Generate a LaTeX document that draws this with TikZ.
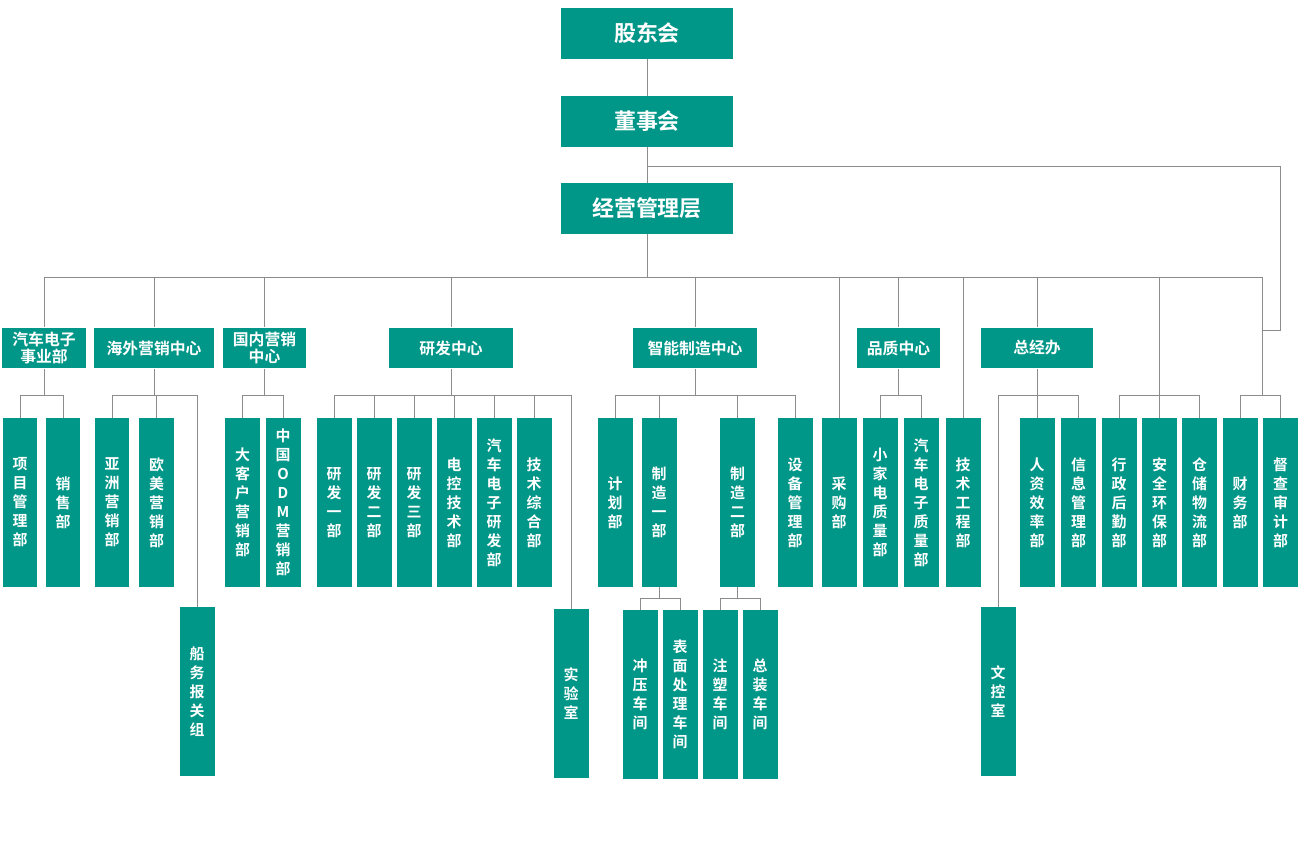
\documentclass[tikz,border=0pt]{standalone}
\usepackage{fontspec}
\setmainfont{Noto Sans CJK SC Bold}
\usetikzlibrary{calc, positioning}
\definecolor{teal1}{RGB}{0,150,136}
\definecolor{line1}{RGB}{140,140,140}
\tikzset{
  box/.style={fill=teal1, text=white, inner sep=0pt, align=center},
  top/.style={box, minimum width=3.46cm, minimum height=1.02cm, font=\fontsize{12.5}{14}\selectfont},
  mid/.style={box, minimum height=0.82cm, font=\fontsize{9}{9.5}\selectfont},
  col/.style={box, minimum width=0.7cm, minimum height=3.38cm, font=\fontsize{8.5}{10.8}\selectfont},
  link/.style={draw=line1, line width=0.5pt}
}
\begin{document}
\begin{tikzpicture}[x=0.02cm, y=-0.02cm]
\useasboundingbox (0,0) rectangle (1300,844);
% top chain
\node[top] (gd) at (647,33.5) {股东会};
\node[top] (ds) at (647,121.5) {董事会};
\node[top] (jy) at (647,208.5) {经营管理层};
% second level
\node[mid, minimum width=1.68cm] (qc) at (44,348) {汽车电子\\事业部};
\node[mid, minimum width=2.4cm] (hw) at (154,348) {海外营销中心};
\node[mid, minimum width=1.66cm] (gn) at (264.5,348) {国内营销\\中心};
\node[mid, minimum width=2.48cm] (yf) at (451,348) {研发中心};
\node[mid, minimum width=2.48cm] (zn) at (695,348) {智能制造中心};
\node[mid, minimum width=1.66cm] (pz) at (898.5,348) {品质中心};
\node[mid, minimum width=2.24cm] (zj) at (1037,348) {总经办};
% third level
\node[col] (xm) at (20,502.5) {项\\目\\管\\理\\部};
\node[col] (xs) at (63,502.5) {销\\售\\部};
\node[col] (yz) at (112,502.5) {亚\\洲\\营\\销\\部};
\node[col] (om) at (156.5,502.5) {欧\\美\\营\\销\\部};
\node[col] (cw) at (197,691.5) {船\\务\\报\\关\\组};
\node[col] (dk) at (242.5,502.5) {大\\客\\户\\营\\销\\部};
\node[col] (odm) at (283,502.5) {中\\国\\O\\D\\M\\营\\销\\部};
\node[col] (y1) at (334,502.5) {研\\发\\一\\部};
\node[col] (y2) at (374,502.5) {研\\发\\二\\部};
\node[col] (y3) at (414,502.5) {研\\发\\三\\部};
\node[col] (dkj) at (454,502.5) {电\\控\\技\\术\\部};
\node[col] (qy) at (494,502.5) {汽\\车\\电\\子\\研\\发\\部};
\node[col] (jz) at (534,502.5) {技\\术\\综\\合\\部};
\node[col] (sy) at (571,693.5) {实\\验\\室};
\node[col] (jh) at (615,502.5) {计\\划\\部};
\node[col] (z1) at (659,502.5) {制\\造\\一\\部};
\node[col] (z2) at (737.5,502.5) {制\\造\\二\\部};
\node[col] (sb) at (795,502.5) {设\\备\\管\\理\\部};
\node[col] (cy) at (640,694.5) {冲\\压\\车\\间};
\node[col] (bm) at (680,694.5) {表\\面\\处\\理\\车\\间};
\node[col] (zs) at (720,694.5) {注\\塑\\车\\间};
\node[col] (zz) at (760,694.5) {总\\装\\车\\间};
\node[col] (cg) at (839,502.5) {采\\购\\部};
\node[col] (xj) at (880,502.5) {小\\家\\电\\质\\量\\部};
\node[col] (qz) at (921,502.5) {汽\\车\\电\\子\\质\\量\\部};
\node[col] (jg) at (963,502.5) {技\\术\\工\\程\\部};
\node[col] (wk) at (998,691.5) {文\\控\\室};
\node[col] (rz) at (1037,502.5) {人\\资\\效\\率\\部};
\node[col] (xx) at (1078.5,502.5) {信\\息\\管\\理\\部};
\node[col] (xz) at (1119,502.5) {行\\政\\后\\勤\\部};
\node[col] (aq) at (1159.5,502.5) {安\\全\\环\\保\\部};
\node[col] (cc) at (1199.5,502.5) {仓\\储\\物\\流\\部};
\node[col] (cwb) at (1240,502.5) {财\\务\\部};
\node[col] (dc) at (1280.5,502.5) {督\\查\\审\\计\\部};
% levels of the brackets
\coordinate (bus) at (0,277);
\coordinate (b3) at (0,395);
\coordinate (b4) at (0,598);
% top links
\draw[link] (gd) -- (ds);
\draw[link] (ds) -- (jy);
\draw[link] (ds.south) -- ++(0,19) -| (1280,330) -- (1262,330);
\draw[link] (jy.south) -- (jy.south|-bus);
\draw[link] (44,277) -- (1262,277);
\foreach \n in {qc,hw,gn,yf,zn,pz,zj}
  \draw[link] (\n.north|-bus) -- (\n.north);
\draw[link] (cg.north|-bus) -- (cg.north);
\draw[link] (jg.north|-bus) -- (jg.north);
\draw[link] (aq.north|-bus) -- (aq.north);
\draw[link] (1262,277) -- (1262,395);
% brackets to columns
\foreach \p/\a/\b in {qc/xm/xs, hw/yz/cw, gn/dk/odm, yf/y1/sy, zn/jh/sb, pz/xj/qz, zj/wk/xx}
  \draw[link] (\p.south) -- (\p.south|-b3);
\foreach \a/\b in {xm/xs, yz/cw, dk/odm, y1/sy, jh/sb, xj/qz, wk/xx, xz/cc, cwb/dc}
  \draw[link] (\a.north) -- (\a.north|-b3) -- (\b.north|-b3) -- (\b.north);
\foreach \n in {om,y2,y3,dkj,qy,jz,z1,z2,rz,aq}
  \draw[link] (\n.north|-b3) -- (\n.north);
% workshops
\draw[link] (z1.south) -- (z1.south|-b4);
\draw[link] (cy.north) -- (cy.north|-b4) -- (bm.north|-b4) -- (bm.north);
\draw[link] (z2.south) -- (z2.south|-b4);
\draw[link] (zs.north) -- (zs.north|-b4) -- (zz.north|-b4) -- (zz.north);
\end{tikzpicture}
\end{document}
